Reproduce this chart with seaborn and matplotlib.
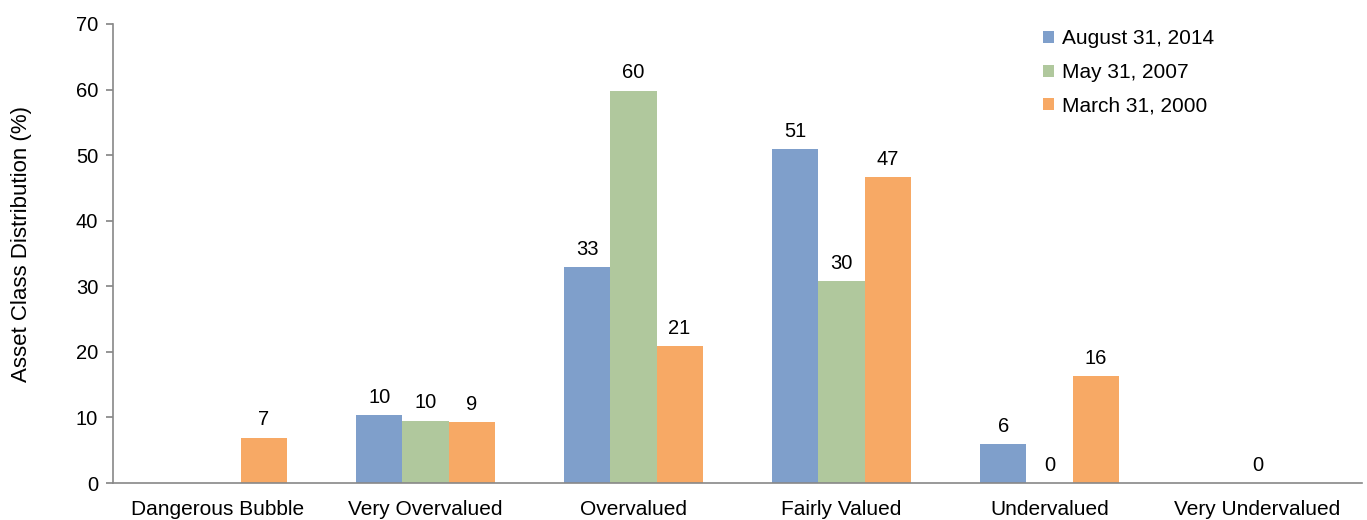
import pandas as pd
import matplotlib.pyplot as plt
import seaborn as sns

categories = ['Dangerous Bubble', 'Very Overvalued', 'Overvalued',
              'Fairly Valued', 'Undervalued', 'Very Undervalued']
series = ['August 31, 2014', 'May 31, 2007', 'March 31, 2000']

aug_2014 = [0, 10.4, 32.9, 50.9, 5.9, 0]
may_2007 = [0, 9.5, 59.8, 30.8, 0, 0]
mar_2000 = [6.9, 9.3, 20.9, 46.6, 16.3, 0]

# labels as printed on the chart ('' = no label shown)
aug_2014_labels = ['', '10', '33', '51', '6', '']
may_2007_labels = ['', '10', '60', '30', '0', '0']
mar_2000_labels = ['7', '9', '21', '47', '16', '']

colors = ['#7F9FCB', '#B0C89D', '#F7A965']

sns.set_theme(style='white')
plt.rcParams['font.family'] = ['Liberation Sans', 'DejaVu Sans']
plt.rcParams['text.color'] = 'black'

data_df = pd.DataFrame({
    'category': categories * 3,
    'series': [s for s in series for _ in categories],
    'value': aug_2014 + may_2007 + mar_2000,
})
labels = [aug_2014_labels, may_2007_labels, mar_2000_labels]

fig = plt.figure(figsize=(13.67, 5.2), dpi=100)
ax = fig.add_axes([0.083, 0.071, 0.913, 0.883])
sns.barplot(data=data_df, x='category', y='value', hue='series',
            order=categories, hue_order=series, palette=colors,
            width=0.665, saturation=1, linewidth=0, ax=ax)

for container, lab in zip(ax.containers, labels):
    ax.bar_label(container, labels=lab, padding=6, fontsize=14.5, color='black')

ax.set_ylim(0, 70)
ax.set_xlim(-0.5, len(categories) - 0.5)
ax.set_yticks(range(0, 71, 10))
ax.set_xlabel('')
ax.set_ylabel('Asset Class Distribution (%)', fontsize=16, color='black')
ax.yaxis.set_label_coords(-0.065, 0.52)
ax.tick_params(axis='y', labelsize=14.5, left=True, length=5, color='#888888',
               pad=6, labelcolor='black')
ax.tick_params(axis='x', labelsize=15, bottom=False, pad=6, labelcolor='black')
for side in ['top', 'right']:
    ax.spines[side].set_visible(False)
for side in ['left', 'bottom']:
    ax.spines[side].set_color('#888888')
    ax.spines[side].set_linewidth(1.2)

ax.legend(loc='upper left', bbox_to_anchor=(0.745, 0.988), frameon=False,
          borderaxespad=0, borderpad=0,
          fontsize=15, handlelength=0.5, handleheight=0.5, handletextpad=0.4,
          labelspacing=0.7)

plt.savefig('out.png', dpi=100)
